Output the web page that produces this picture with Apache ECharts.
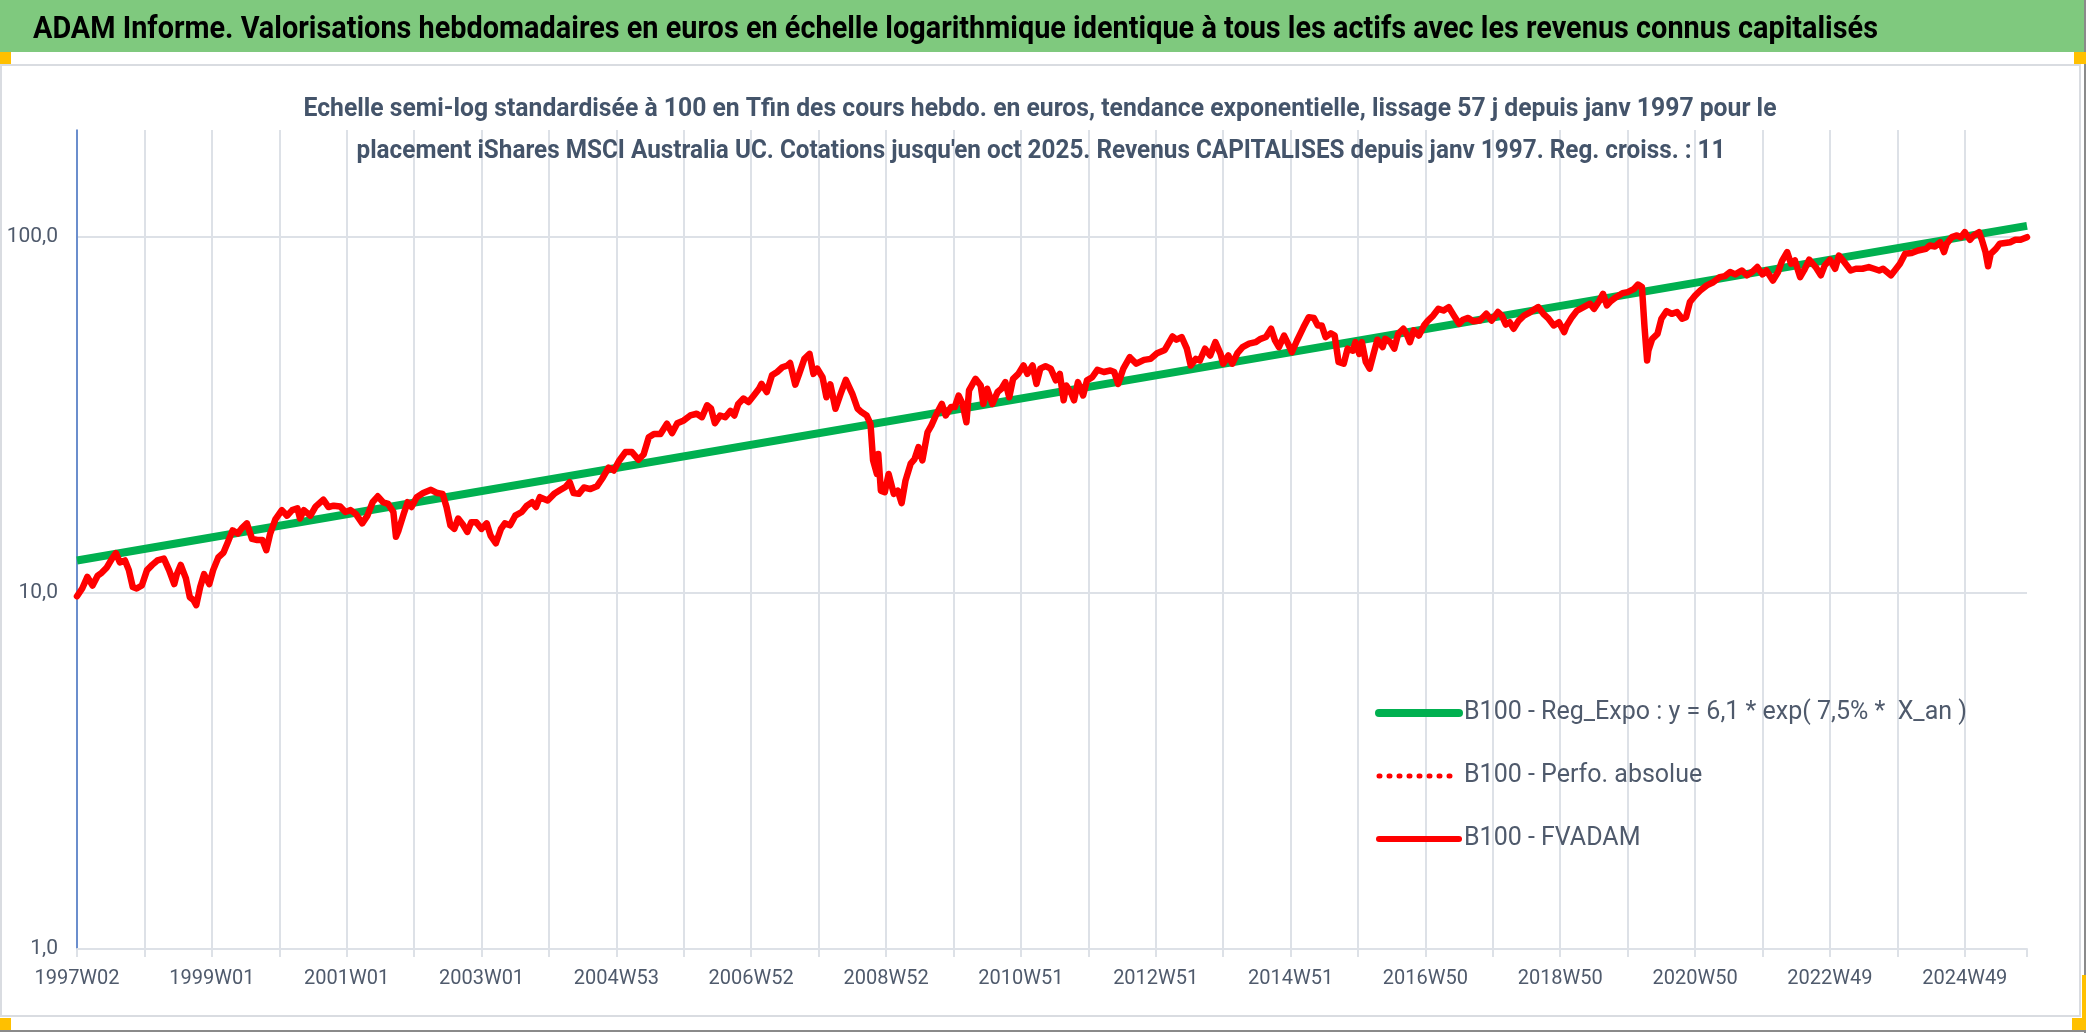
<!DOCTYPE html>
<html>
<head>
<meta charset="utf-8">
<title>ADAM Informe - iShares MSCI Australia UC</title>
<script src="https://cdn.jsdelivr.net/npm/echarts@6/dist/echarts.min.js"></script>
<style>
  html, body { margin: 0; padding: 0; background: #fff; }
  #chart { width: 2086px; height: 1033px; }
</style>
</head>
<body>
<div id="chart"></div>
<script>
// ---- données ----
var titleText = "ADAM Informe. Valorisations hebdomadaires en euros en échelle logarithmique identique à tous les actifs avec les revenus connus capitalisés";
var subtitleLines = [
  "Echelle semi-log standardisée à 100 en Tfin des cours hebdo. en euros, tendance exponentielle, lissage 57 j depuis janv 1997 pour le",
  "placement iShares MSCI Australia UC. Cotations jusqu'en oct 2025. Revenus CAPITALISES depuis janv 1997. Reg. croiss. : 11"
];
var seriesNames = [
  "B100 - Reg_Expo : y = 6,1 * exp( 7,5% *  X_an )",
  "B100 - Perfo. absolue",
  "B100 - FVADAM"
];

// étiquettes de l'axe des semaines (une toutes les 104 semaines)
var xTickLabels = ["1997W02", "1999W01", "2001W01", "2003W01", "2004W53", "2006W52", "2008W52",
  "2010W51", "2012W51", "2014W51", "2016W50", "2018W50", "2020W50", "2022W49", "2024W49"];
var lastWeek = 1504;          // index de la dernière semaine (oct 2025)
var yTickValues = [1, 10, 100];

// tendance exponentielle : début et fin
var regWeeks = [0, 1504];
var regValues = [12.35, 107.6];

// B100 - FVADAM : index de semaine / valeur
var fvadamWeeks = [
  0, 4, 8, 12, 16, 19, 23, 27, 30, 33, 37, 40, 43, 46, 50, 54, 58, 62, 67, 71,
  75, 77, 80, 84, 87, 90, 92, 95, 98, 102, 105, 109, 113, 116, 120, 124, 127, 131, 135, 139,
  143, 146, 149, 153, 158, 162, 166, 170, 172, 175, 180, 184, 190, 194, 198, 203, 207, 211, 215, 220,
  224, 228, 232, 236, 240, 244, 246, 248, 252,
  255, 258, 262, 267, 273, 278, 282, 285, 288, 291, 294, 298, 301, 304, 308, 312, 316, 319, 323, 327,
  330, 334, 338, 343, 347, 351, 354, 357, 363, 368, 373, 377, 380, 383, 387, 391, 396, 401, 405, 410,
  414, 418, 423, 428, 433, 437, 441, 445, 450, 455, 459, 463, 468, 473, 478, 482, 486, 489, 492, 496,
  500, 504,
  507, 510, 514, 518, 522, 526, 528, 532, 536, 540, 544, 548, 550, 554, 557, 561, 565, 568, 571, 575,
  578, 581, 585, 589, 593, 598, 602, 605, 609, 612, 614, 617, 618, 620, 623, 626, 630, 633, 636, 639,
  643, 646, 649, 652, 656, 659, 663, 667, 670, 674, 677, 680, 683, 686, 688, 693, 697, 699, 702, 706,
  710, 713, 716, 719, 722, 726, 730, 733, 737, 740, 743, 747, 751, 755, 758,
  761, 763, 767, 769, 772, 776, 779, 783, 787, 792, 797, 800, 803, 807, 812, 817, 823, 828, 833, 839,
  845, 848, 852, 856, 859, 863, 866, 870, 874, 878, 882, 884, 888, 891, 895, 899, 904, 909, 913, 917,
  921, 924, 927, 931, 934, 937, 941, 946, 950, 954, 957, 960, 963, 967, 970, 973, 977, 980, 984, 986,
  989, 991, 994, 997, 1000, 1003, 1007, 1009, 1013,
  1016, 1019, 1023, 1026, 1028, 1031, 1035, 1039, 1042, 1046, 1050, 1054, 1058, 1062, 1066, 1069, 1073, 1077, 1082, 1087,
  1091, 1096, 1099, 1102, 1105, 1108, 1112, 1116, 1121, 1127, 1131, 1135, 1139, 1143, 1147, 1149, 1153, 1157, 1162, 1167,
  1170, 1174, 1177, 1180, 1183, 1187, 1192, 1196, 1201, 1204, 1207, 1209, 1211, 1212, 1215, 1219, 1222, 1226, 1230, 1234,
  1238, 1241, 1244, 1248, 1252, 1257, 1262, 1267,
  1271, 1275, 1279, 1284, 1288, 1292, 1296, 1300, 1303, 1308, 1312, 1315, 1319, 1322, 1325, 1329, 1332, 1336, 1341, 1345,
  1348, 1352, 1356, 1359, 1363, 1368, 1372, 1377, 1382, 1386, 1390, 1393, 1399, 1402, 1406, 1410, 1415, 1420, 1426, 1429,
  1433, 1437, 1440, 1442, 1446, 1450, 1453, 1456, 1460, 1463, 1467, 1469, 1472, 1474, 1476, 1480, 1483, 1487, 1491, 1495,
  1499, 1504
];
var fvadamValues = [
  9.8, 10.3, 11.1, 10.5, 11.2, 11.4, 11.8, 12.5, 12.95, 12.2, 12.35, 11.6, 10.4, 10.3, 10.5, 11.6, 12.0, 12.35, 12.5, 11.6,
  10.6, 11.3, 12.0, 11.0, 9.74, 9.54, 9.25, 10.4, 11.3, 10.6, 11.6, 12.6, 13.0, 13.8, 15.0, 14.7, 15.2, 15.7, 14.2, 14.1,
  14.1, 13.2, 14.7, 16.1, 17.1, 16.5, 17.1, 17.3, 16.2, 17.1, 16.5, 17.5, 18.3, 17.45, 17.6, 17.5, 16.9, 17.1, 16.7, 15.7,
  16.5, 18.0, 18.7, 18.0, 17.8, 16.9, 14.4, 15.0, 16.7,
  18.0, 17.45, 18.6, 19.1, 19.5, 19.1, 19.0, 17.45, 15.5, 15.15, 16.2, 15.5, 14.85, 15.8, 15.8, 15.15, 15.7, 14.5, 13.8, 15.15,
  15.7, 15.5, 16.5, 16.9, 17.6, 18.0, 17.45, 18.6, 18.2, 19.0, 19.5, 19.9, 20.5, 19.1, 19.0, 19.8, 19.6, 19.95, 20.95, 22.5,
  22.1, 23.5, 24.9, 24.9, 23.7, 24.5, 27.4, 28.0, 28.0, 29.9, 28.15, 30.0, 30.55, 31.55, 31.9, 31.2, 33.7, 33.0, 30.0, 31.55,
  31.2, 32.5,
  31.55, 34.0, 35.2, 34.4, 35.9, 37.5, 38.7, 36.7, 40.9, 41.8, 43.1, 43.6, 44.3, 38.5, 41.3, 45.5, 47.0, 41.3, 42.7, 40.4,
  35.5, 38.6, 32.95, 36.3, 39.75, 36.3, 33.0, 32.25, 31.55, 29.9, 23.6, 21.6, 24.6, 19.4, 19.2, 21.6, 19.0, 19.4, 17.9, 20.7,
  23.1, 23.8, 25.7, 23.6, 28.3, 29.6, 31.9, 34.0, 31.55, 33.3, 33.3, 35.9, 34.0, 30.2, 37.1, 40.0, 38.3, 34.0, 37.5, 34.0,
  36.7, 37.5, 39.15, 35.5, 40.0, 41.3, 43.6, 41.3, 43.6, 38.7, 42.7, 43.4, 42.7, 39.6, 41.3,
  34.8, 38.3, 36.3, 34.8, 39.15, 35.9, 39.6, 40.4, 42.4, 41.8, 42.2, 41.8, 38.7, 42.7, 46.0, 44.1, 45.2, 45.5, 47.2, 48.2,
  52.6, 51.5, 52.4, 48.6, 43.6, 45.5, 45.0, 48.6, 46.5, 50.7, 47.0, 44.1, 46.5, 44.1, 47.2, 49.1, 50.2, 50.7, 51.8, 52.4,
  55.3, 51.25, 49.1, 52.9, 50.2, 47.5, 51.25, 55.9, 59.6, 59.3, 56.5, 56.5, 52.4, 53.7, 52.9, 44.6, 44.1, 48.6, 48.0, 50.7,
  47.0, 50.7, 44.6, 42.7, 47.0, 51.5, 49.1, 51.8, 50.7,
  48.6, 53.5, 55.3, 52.9, 50.7, 54.7, 52.9, 56.5, 58.3, 60.2, 62.9, 62.2, 63.6, 60.2, 57.1, 58.6, 59.3, 58.0, 58.3, 60.9,
  58.3, 61.6, 60.2, 56.8, 57.7, 55.3, 58.3, 60.2, 61.6, 63.6, 60.9, 59.0, 56.5, 57.7, 54.1, 56.5, 59.6, 62.2, 63.6, 65.0,
  62.9, 66.1, 69.3, 64.3, 66.1, 67.8, 69.6, 70.1, 71.6, 73.6, 72.4, 55.9, 45.0, 48.0, 51.8, 53.5, 59.0, 62.0, 60.9, 61.6,
  59.0, 59.6, 65.7, 68.5, 70.8, 73.2, 74.7, 77.2,
  77.7, 79.8, 78.6, 80.6, 78.1, 79.8, 82.4, 78.6, 80.6, 75.5, 79.8, 85.6, 90.8, 84.2, 86.0, 77.2, 80.6, 86.4, 82.4, 78.1,
  83.3, 86.4, 81.5, 88.8, 85.1, 80.6, 81.5, 81.5, 82.4, 81.5, 80.6, 81.5, 78.1, 80.6, 84.2, 89.8, 90.2, 91.7, 92.7, 94.7,
  94.1, 96.8, 90.8, 95.8, 100, 101.1, 100, 103.3, 98.3, 101.1, 103.3, 98.7, 90.8, 82.8, 89.8, 92.7, 95.8, 96.3, 96.8, 98.3,
  98.3, 100
];

// ---- mise en forme ----
var FONT = "Roboto, 'Noto Sans', sans-serif";
var LABEL_COLOR = '#4F5A6C';
var GRID_COLOR = '#DDE1E7';

var measureCtx = document.createElement('canvas').getContext('2d');
// facteur d'étirement horizontal pour qu'un texte occupe la largeur voulue
function fitScale(text, weight, size, width) {
  measureCtx.font = weight + ' ' + size + 'px ' + FONT;
  return width / measureCtx.measureText(text).width;
}

function pairs(xs, ys) {
  return xs.map(function (x, i) { return [x, ys[i]]; });
}

function orange(x, y, w, h) {
  return { type: 'rect', silent: true, z: 5, shape: { x: x, y: y, width: w, height: h }, style: { fill: '#FFC000' } };
}

function bannerText(text, x, y, size, weight, color, width, align) {
  return {
    type: 'text', silent: true, z: 10, x: x, y: y,
    scaleX: fitScale(text, weight, size, width),
    style: {
      text: text, fontSize: size, fontWeight: weight, fontFamily: FONT, fill: color,
      align: align, verticalAlign: 'middle', textAlign: align, textVerticalAlign: 'middle'
    }
  };
}

var chart = echarts.init(document.getElementById('chart'), null, { renderer: 'canvas' });

var option = {
  animation: false,
  backgroundColor: '#ffffff',
  textStyle: { fontFamily: FONT },
  graphic: [
    // bandeau vert du titre
    { type: 'rect', silent: true, z: 1, shape: { x: 0, y: 0, width: 2086, height: 52 }, style: { fill: '#7FC97E' } },
    // cadre de la zone du graphique
    { type: 'rect', silent: true, z: 1, shape: { x: 1, y: 65, width: 2079, height: 951 },
      style: { fill: 'transparent', stroke: '#D9DCE1', lineWidth: 2 } },
    { type: 'line', silent: true, z: 1, shape: { x1: 0, y1: 1031, x2: 2086, y2: 1031 }, style: { stroke: '#8A8A8A', lineWidth: 2 } },
    { type: 'line', silent: true, z: 1, shape: { x1: 2085, y1: 0, x2: 2085, y2: 1033 }, style: { stroke: '#8A8A8A', lineWidth: 2 } },
    // poignées de sélection
    orange(0, 52, 11, 12),
    orange(2074, 52, 12, 12),
    orange(2082, 975, 4, 44),
    orange(2072, 1018, 14, 12),
    orange(0, 1018, 11, 12),
    // titres
    bannerText(titleText, 33, 30, 31, 'bold', '#000000', 1845, 'left'),
    bannerText(subtitleLines[0], 1040, 110, 25, 'bold', '#44546A', 1473, 'center'),
    bannerText(subtitleLines[1], 1041, 152, 25, 'bold', '#44546A', 1369, 'center')
  ],
  grid: {
    left: 77, right: 59, top: 130, bottom: 84,
    containLabel: false, outerBoundsMode: 'none'
  },
  legend: {
    orient: 'vertical',
    left: 1370, top: 693,
    itemWidth: 80, itemHeight: 30, itemGap: 33,
    selectedMode: false,
    itemStyle: { opacity: 0 },
    textStyle: { fontSize: 25, color: LABEL_COLOR, fontFamily: FONT, lineHeight: 30 },
    data: [
      { name: seriesNames[0], itemStyle: { opacity: 0 }, lineStyle: { width: 8, color: '#00B050', cap: 'round' } },
      { name: seriesNames[1], itemStyle: { opacity: 0 }, lineStyle: { width: 5, color: '#FF0000', type: [1, 9], cap: 'round' } },
      { name: seriesNames[2], itemStyle: { opacity: 0 }, lineStyle: { width: 6, color: '#FF0000', cap: 'round' } }
    ]
  },
  xAxis: {
    type: 'value',
    min: 0, max: lastWeek, interval: 52,
    axisLine: { show: true, onZero: false, lineStyle: { color: GRID_COLOR, width: 2 } },
    axisTick: { show: true, length: 8, lineStyle: { color: GRID_COLOR, width: 2 } },
    splitLine: { show: true, showMaxLine: false, lineStyle: { color: GRID_COLOR, width: 2 } },
    axisLabel: {
      margin: 20, fontSize: 20, color: LABEL_COLOR, fontFamily: FONT,
      formatter: function (v) {
        var k = v / 104;
        if (Math.abs(k - Math.round(k)) > 1e-9) return '';
        return xTickLabels[Math.round(k)] || '';
      }
    }
  },
  yAxis: {
    type: 'log', logBase: 10, min: 1, max: 200,
    axisLine: { show: true, lineStyle: { color: '#4472C4', width: 1.5 } },
    axisTick: { show: false },
    splitLine: { show: true, showMaxLine: false, lineStyle: { color: GRID_COLOR, width: 2 } },
    axisLabel: {
      margin: 19, fontSize: 21, color: LABEL_COLOR, fontFamily: FONT, showMaxLabel: false,
      formatter: function (v) {
        for (var i = 0; i < yTickValues.length; i++) {
          if (Math.abs(v - yTickValues[i]) < 1e-6 * yTickValues[i]) {
            return yTickValues[i].toFixed(1).replace('.', ',');
          }
        }
        return '';
      }
    }
  },
  series: [
    {
      name: seriesNames[0], type: 'line', symbol: 'none', showSymbol: false,
      data: pairs(regWeeks, regValues),
      lineStyle: { color: '#00B050', width: 8, cap: 'butt' },
      itemStyle: { color: '#00B050' },
      z: 2
    },
    {
      name: seriesNames[1], type: 'line', symbol: 'none', showSymbol: false,
      data: [],
      lineStyle: { color: '#FF0000', width: 5, type: [1, 9], cap: 'round' },
      itemStyle: { color: '#FF0000' },
      z: 3
    },
    {
      name: seriesNames[2], type: 'line', symbol: 'none', showSymbol: false,
      data: pairs(fvadamWeeks, fvadamValues),
      lineStyle: { color: '#FF0000', width: 6.5, join: 'round', cap: 'round' },
      itemStyle: { color: '#FF0000' },
      z: 4
    }
  ]
};

chart.setOption(option);
</script>
</body>
</html>
